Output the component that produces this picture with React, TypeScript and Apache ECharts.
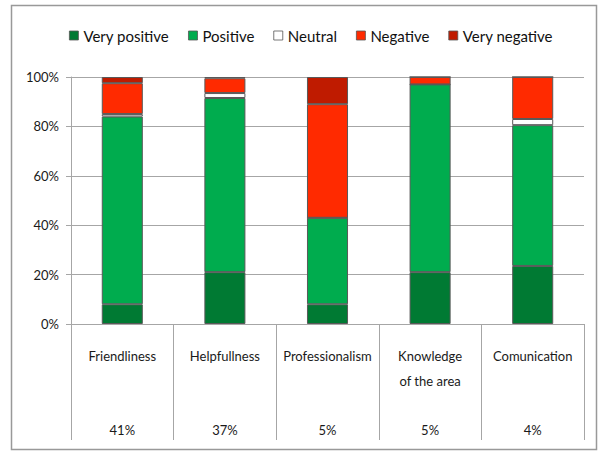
import React, { useEffect, useRef } from "react";
import * as echarts from "echarts";

const categories = ["Friendliness", "Helpfullness", "Professionalism", "Knowledge\nof the area", "Comunication"];
const shares = ["41%", "37%", "5%", "5%", "4%"];
const seriesNames = ["Very positive", "Positive", "Neutral", "Negative", "Very negative"];
const veryPositive = [8, 21, 8, 21, 23.5];
const positive = [76, 70.5, 35, 76, 57];
const neutral = [1, 2, 0, 0, 2.5];
const negative = [12.5, 6, 46, 3, 17];
const veryNegative = [2.5, 0.5, 11, 0, 0];
const colors = ["#007A33", "#00AC4E", "#FFFFFF", "#FF2A00", "#BF1B00"];

const FONT = "Lato";

export default function App() {
  const ref = useRef<HTMLDivElement>(null);
  useEffect(() => {
    if (!ref.current) return;
    const chart = echarts.init(ref.current, null, { renderer: "svg" });
    const seriesData = [veryPositive, positive, neutral, negative, veryNegative];
    const labels = categories.map((c, i) => {
      const lines = c.split("\n");
      while (lines.length < 3) lines.push("");
      return lines.join("\n") + "\n" + shares[i];
    });
    chart.setOption({
      animation: false,
      textStyle: { fontFamily: FONT },
      legend: {
        top: 23,
        left: 64,
        itemWidth: 9,
        itemHeight: 9,
        itemGap: 19,
        icon: "rect",
        textStyle: { fontFamily: FONT, fontSize: 15, color: "#111" },
        data: seriesNames.map((n) => ({
          name: n,
          itemStyle: { borderColor: "#555", borderWidth: 0.8 },
        })),
      },
      grid: { left: 71, right: 18, top: 77, bottom: 127 },
      xAxis: {
        type: "category",
        data: labels,
        axisLine: { lineStyle: { color: "#A6A6A6", width: 1 } },
        axisTick: { show: true, length: 116, alignWithLabel: false, lineStyle: { color: "#A6A6A6" } },
        axisLabel: {
          interval: 0,
          margin: 20,
          lineHeight: 24.5,
          fontFamily: FONT,
          fontSize: 13,
          color: "#1a1a1a",
        },
      },
      yAxis: {
        type: "value",
        min: 0,
        max: 100,
        interval: 20,
        axisLine: { show: true, lineStyle: { color: "#A6A6A6" } },
        axisTick: { show: true, length: 5, lineStyle: { color: "#A6A6A6" } },
        splitLine: { lineStyle: { color: "#A6A6A6", width: 1 } },
        axisLabel: {
          formatter: "{value}%",
          margin: 12,
          fontFamily: FONT,
          fontSize: 13,
          color: "#1a1a1a",
        },
      },
      series: seriesNames.map((name, i) => ({
        name,
        type: "bar",
        stack: "total",
        barWidth: "40%",
        data: seriesData[i],
        itemStyle: { color: colors[i], borderColor: "#595959", borderWidth: 1 },
      })),
      graphic: [
        {
          type: "rect",
          shape: { x: 11.5, y: 5.5, width: 585, height: 444 },
          style: { fill: "none", stroke: "#999", lineWidth: 1.5 },
          silent: true,
        },
      ],
    });
    return () => chart.dispose();
  }, []);
  return (
    <div
      ref={ref}
      style={{ position: "fixed", left: 0, top: 0, width: 602, height: 451, background: "#fff" }}
    />
  );
}
